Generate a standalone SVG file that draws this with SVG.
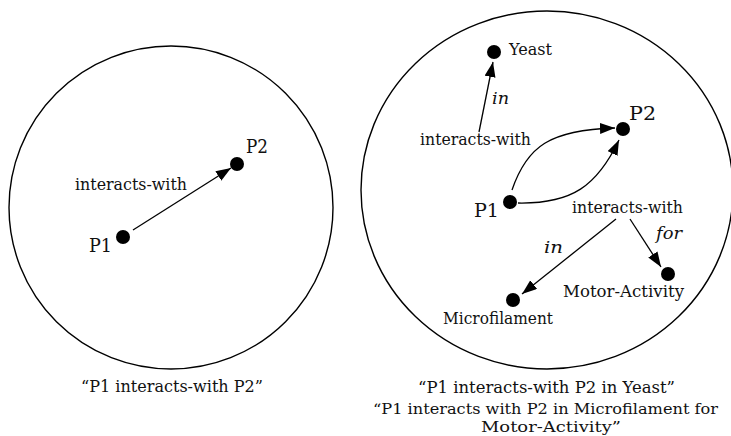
<svg xmlns="http://www.w3.org/2000/svg" width="731" height="436" viewBox="0 0 731 436">
<style>
text{font-family:"DejaVu Serif","Liberation Serif",serif;font-size:17px;fill:#111}
.p{font-size:19px}
.it{font-style:italic}
.cap{font-size:15px}
.dot{fill:#000}
.frame{fill:none;stroke:#000;stroke-width:1.4}
.edge{fill:none;stroke:#000;stroke-width:1.3}
</style>
<defs>
<marker id="ah" markerUnits="userSpaceOnUse" markerWidth="16" markerHeight="12" refX="15" refY="5.5" orient="auto">
<path d="M0,0 L15,5.5 L0,11 z" fill="#000"/>
</marker>
</defs>
<rect width="731" height="436" fill="#fff"/>
<g id="frames">
<ellipse class="frame" cx="171" cy="207.5" rx="162" ry="161.5"/>
<ellipse class="frame" cx="547" cy="190" rx="186" ry="179"/>
</g>
<g id="connectors">
<path class="edge" d="M133,230 L231,168" marker-end="url(#ah)"/>
<path class="edge" d="M479,132 L493,62" marker-end="url(#ah)"/>
<path class="edge" d="M512,190 C527,146 550,130 615,128" marker-end="url(#ah)"/>
<path class="edge" d="M518,203 C572,204 597,186 619,140" marker-end="url(#ah)"/>
<path class="edge" d="M616,219 L522,294" marker-end="url(#ah)"/>
<path class="edge" d="M630,219 L661,267" marker-end="url(#ah)"/>
<text class="it" x="492" y="104" textLength="17" lengthAdjust="spacingAndGlyphs">in</text>
<text class="it" x="544" y="253" textLength="19" lengthAdjust="spacingAndGlyphs">in</text>
<text class="it" x="656" y="239" textLength="26" lengthAdjust="spacingAndGlyphs">for</text>
</g>
<g id="left-P1"><circle class="dot" cx="123" cy="237" r="7"/><text class="p" x="89" y="252" textLength="23" lengthAdjust="spacingAndGlyphs">P1</text></g>
<g id="left-P2"><circle class="dot" cx="237" cy="164" r="7"/><text class="p" x="246" y="153" textLength="22" lengthAdjust="spacingAndGlyphs">P2</text></g>
<g id="left-rel"><text x="75" y="190" textLength="112" lengthAdjust="spacingAndGlyphs">interacts-with</text></g>
<g id="right-P1"><circle class="dot" cx="510" cy="202" r="7"/><text class="p" x="474" y="217" textLength="25" lengthAdjust="spacingAndGlyphs">P1</text></g>
<g id="right-P2"><circle class="dot" cx="623" cy="129" r="7"/><text class="p" x="629" y="120" textLength="27" lengthAdjust="spacingAndGlyphs">P2</text></g>
<g id="yeast"><circle class="dot" cx="494" cy="52" r="7"/><text x="509" y="55" textLength="43" lengthAdjust="spacingAndGlyphs">Yeast</text></g>
<g id="rel-upper"><text x="420" y="145" textLength="111" lengthAdjust="spacingAndGlyphs">interacts-with</text></g>
<g id="rel-lower"><text x="572" y="213" textLength="111" lengthAdjust="spacingAndGlyphs">interacts-with</text></g>
<g id="microfilament"><circle class="dot" cx="513" cy="300" r="7"/><text x="443" y="324" textLength="110" lengthAdjust="spacingAndGlyphs">Microfilament</text></g>
<g id="motor-activity"><circle class="dot" cx="668" cy="274" r="7"/><text x="563" y="297" textLength="121" lengthAdjust="spacingAndGlyphs">Motor-Activity</text></g>
<g id="captions">
<text x="81" y="392" textLength="182" lengthAdjust="spacingAndGlyphs">“P1 interacts-with P2”</text>
<text x="418" y="393" textLength="257" lengthAdjust="spacingAndGlyphs">“P1 interacts-with P2 in Yeast”</text>
<text class="cap" x="373" y="414" textLength="345" lengthAdjust="spacingAndGlyphs">“P1 interacts with P2 in Microfilament for</text>
<text class="cap" x="481" y="432" textLength="140" lengthAdjust="spacingAndGlyphs">Motor-Activity”</text>
</g>
</svg>
